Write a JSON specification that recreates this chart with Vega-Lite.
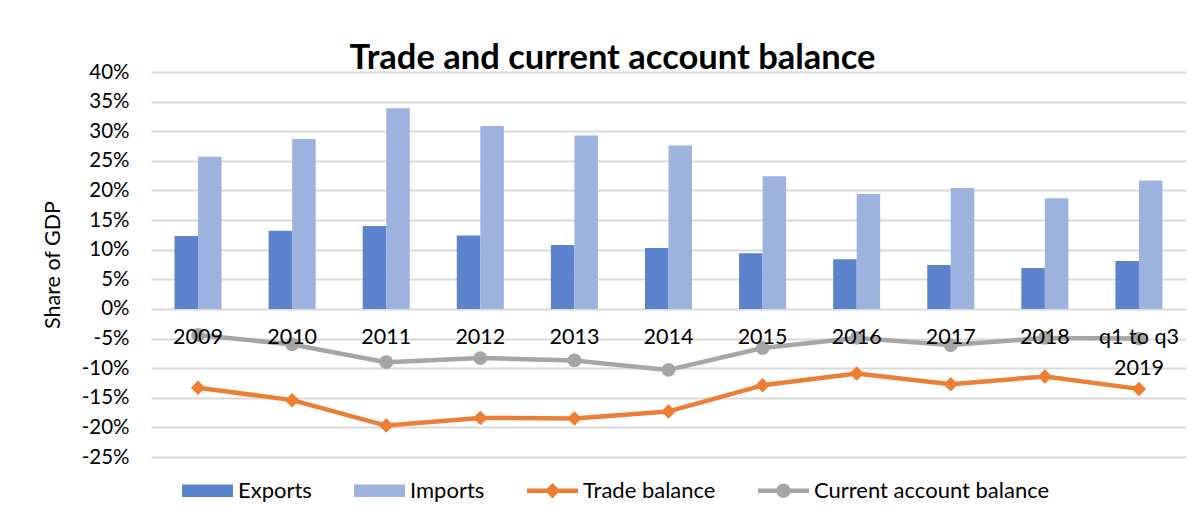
{
  "$schema": "https://vega.github.io/schema/vega-lite/v6.json",
  "autosize": {"type": "none"},
  "width": 1035,
  "height": 385,
  "padding": {"left": 151, "top": 72, "right": 14, "bottom": 63},
  "background": "white",
  "title": {
    "text": "Trade and current account balance",
    "font": "Lato",
    "fontSize": 34.5,
    "fontWeight": "bold",
    "color": "#000000",
    "anchor": "middle",
    "baseline": "alphabetic",
    "offset": 2,
    "dy": 43,
    "dx": -56
  },
  "config": {
    "view": {"stroke": null},
    "font": "Lato"
  },
  "data": {
    "values": [
      {"year": "2009", "series": "Exports", "value": 12.3},
      {"year": "2010", "series": "Exports", "value": 13.2},
      {"year": "2011", "series": "Exports", "value": 14.0},
      {"year": "2012", "series": "Exports", "value": 12.4},
      {"year": "2013", "series": "Exports", "value": 10.8},
      {"year": "2014", "series": "Exports", "value": 10.3},
      {"year": "2015", "series": "Exports", "value": 9.4},
      {"year": "2016", "series": "Exports", "value": 8.4},
      {"year": "2017", "series": "Exports", "value": 7.4},
      {"year": "2018", "series": "Exports", "value": 6.9},
      {"year": "q1 to q3 2019", "series": "Exports", "value": 8.1},
      {"year": "2009", "series": "Imports", "value": 25.7},
      {"year": "2010", "series": "Imports", "value": 28.7},
      {"year": "2011", "series": "Imports", "value": 33.9},
      {"year": "2012", "series": "Imports", "value": 30.9},
      {"year": "2013", "series": "Imports", "value": 29.3},
      {"year": "2014", "series": "Imports", "value": 27.6},
      {"year": "2015", "series": "Imports", "value": 22.4},
      {"year": "2016", "series": "Imports", "value": 19.4},
      {"year": "2017", "series": "Imports", "value": 20.4},
      {"year": "2018", "series": "Imports", "value": 18.7},
      {"year": "q1 to q3 2019", "series": "Imports", "value": 21.7},
      {"year": "2009", "series": "Trade balance", "value": -13.3},
      {"year": "2010", "series": "Trade balance", "value": -15.4},
      {"year": "2011", "series": "Trade balance", "value": -19.7},
      {"year": "2012", "series": "Trade balance", "value": -18.4},
      {"year": "2013", "series": "Trade balance", "value": -18.5},
      {"year": "2014", "series": "Trade balance", "value": -17.3},
      {"year": "2015", "series": "Trade balance", "value": -12.9},
      {"year": "2016", "series": "Trade balance", "value": -10.9},
      {"year": "2017", "series": "Trade balance", "value": -12.7},
      {"year": "2018", "series": "Trade balance", "value": -11.4},
      {"year": "q1 to q3 2019", "series": "Trade balance", "value": -13.5},
      {"year": "2009", "series": "Current account balance", "value": -4.4},
      {"year": "2010", "series": "Current account balance", "value": -6.0},
      {"year": "2011", "series": "Current account balance", "value": -9.0},
      {"year": "2012", "series": "Current account balance", "value": -8.3},
      {"year": "2013", "series": "Current account balance", "value": -8.7},
      {"year": "2014", "series": "Current account balance", "value": -10.3},
      {"year": "2015", "series": "Current account balance", "value": -6.6},
      {"year": "2016", "series": "Current account balance", "value": -4.9},
      {"year": "2017", "series": "Current account balance", "value": -6.1},
      {"year": "2018", "series": "Current account balance", "value": -4.9},
      {"year": "q1 to q3 2019", "series": "Current account balance", "value": -5.0}
    ]
  },
  "encoding": {
    "x": {
      "field": "year",
      "type": "nominal",
      "sort": null,
      "scale": {"paddingInner": 0.5, "paddingOuter": 0.25},
      "axis": {
        "title": null,
        "orient": "bottom",
        "offset": -148,
        "domain": false,
        "ticks": false,
        "grid": false,
        "labelAngle": 0,
        "labelFont": "Lato",
        "labelFontSize": 21.5,
        "labelColor": "#000000",
        "labelPadding": 17,
        "labelLineHeight": 31,
        "labelExpr": "datum.label == 'q1 to q3 2019' ? ['q1 to q3', '2019'] : datum.label",
        "zindex": 1
      }
    },
    "y": {
      "field": "value",
      "type": "quantitative",
      "scale": {"domain": [-25, 40], "nice": false, "zero": false},
      "axis": {
        "title": "Share of GDP",
        "titleFont": "Lato",
        "titleFontSize": 21.5,
        "titleFontWeight": "normal",
        "titleColor": "#000000",
        "titlePadding": 17,
        "values": [-25, -20, -15, -10, -5, 0, 5, 10, 15, 20, 25, 30, 35, 40],
        "labelExpr": "datum.value + '%'",
        "labelFont": "Lato",
        "labelFontSize": 20.5,
        "labelColor": "#000000",
        "labelPadding": 22,
        "domain": false,
        "ticks": false,
        "grid": true,
        "gridColor": "#d9d9d9",
        "gridWidth": 2,
        "zindex": 0
      }
    },
    "color": {
      "field": "series",
      "type": "nominal",
      "scale": {
        "domain": ["Exports", "Imports", "Trade balance", "Current account balance"],
        "range": ["#5b83cd", "#9cb3e0", "#ed7d31", "#a5a5a5"]
      },
      "legend": {
        "title": null,
        "orient": "none",
        "legendX": 31,
        "legendY": 393,
        "direction": "horizontal",
        "labelFont": "Lato",
        "labelFontSize": 22,
        "labelColor": "#000000",
        "labelOffset": 5,
        "labelLimit": 0,
        "columnPadding": 42,
        "symbolSize": 2600,
        "symbolStrokeWidth": 0,
        "encode": {
          "symbols": {
            "update": {
              "shape": {"signal": "datum.value == 'Exports' || datum.value == 'Imports' ? 'M-1,-0.25H1V0.25H-1Z' : datum.value == 'Trade balance' ? 'M-1,-0.09H1V0.09H-1Z M0,-0.3L0.3,0L0,0.3L-0.3,0Z' : 'M-1,-0.09H1V0.09H-1Z M-0.28,0A0.28,0.28 0 1,1 0.28,0A0.28,0.28 0 1,1 -0.28,0Z'"},
              "fill": {"scale": "color", "field": "value"},
              "stroke": {"value": "transparent"},
              "opacity": {"value": 1},
              "fillOpacity": {"value": 1}
            }
          }
        }
      }
    }
  },
  "layer": [
    {
      "transform": [{"filter": "datum.series == 'Exports' || datum.series == 'Imports'"}],
      "mark": {"type": "bar", "opacity": 1},
      "encoding": {
        "xOffset": {
          "field": "series",
          "type": "nominal",
          "scale": {"domain": ["Exports", "Imports"], "paddingInner": 0, "paddingOuter": 0}
        }
      }
    },
    {
      "transform": [{"filter": "datum.series == 'Trade balance' || datum.series == 'Current account balance'"}],
      "mark": {"type": "line", "strokeWidth": 4.5, "strokeJoin": "round", "strokeCap": "round"},
      "encoding": {"detail": {"field": "series", "type": "nominal"}}
    },
    {
      "transform": [{"filter": "datum.series == 'Trade balance'"}],
      "mark": {"type": "point", "shape": "diamond", "filled": true, "size": 210, "opacity": 1}
    },
    {
      "transform": [{"filter": "datum.series == 'Current account balance'"}],
      "mark": {"type": "point", "shape": "circle", "filled": true, "size": 190, "opacity": 1}
    }
  ]
}
